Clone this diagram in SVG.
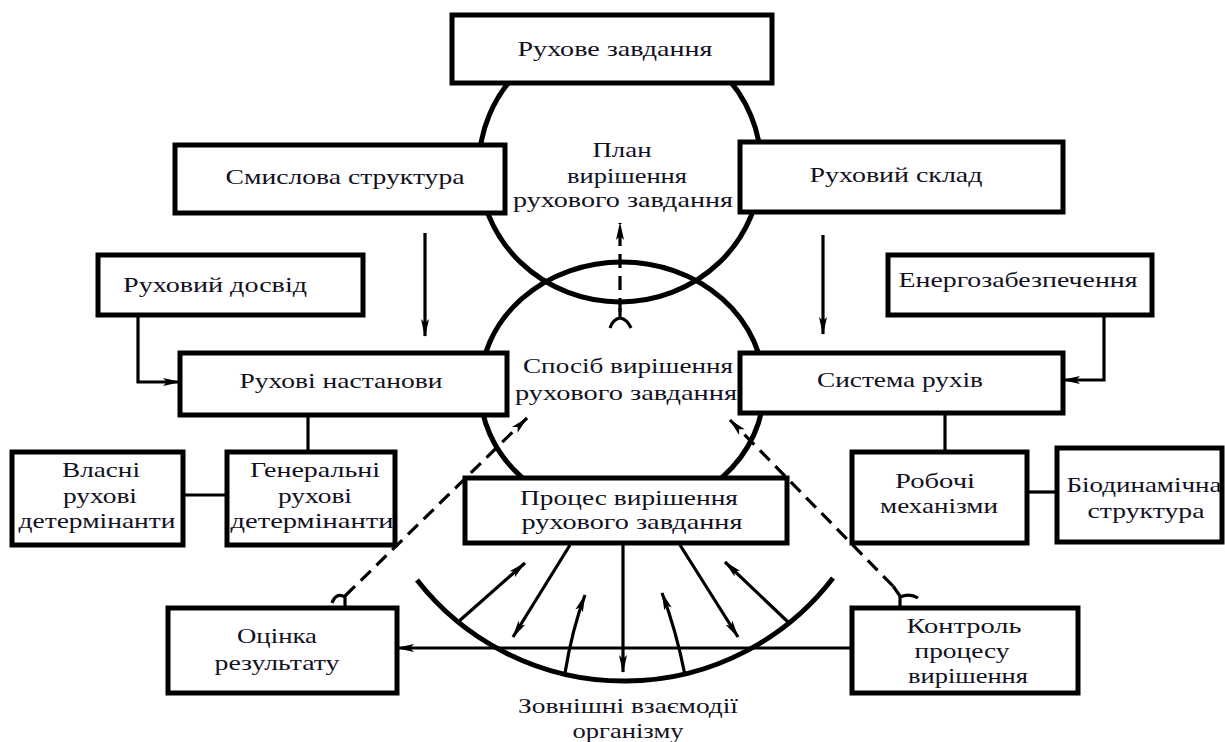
<svg xmlns="http://www.w3.org/2000/svg" width="1225" height="742" viewBox="0 0 1225 742">
<style>
.bg{fill:#fff}
.circ{fill:none;stroke:#000;stroke-width:5}
.box{fill:#fff;stroke:#000;stroke-width:5}
.ln{fill:none;stroke:#000;stroke-width:3.2}
.dash{stroke-dasharray:14 8}
.t{font-family:"Liberation Serif","Times New Roman",serif;font-size:21.5px;fill:#111122;text-anchor:middle}
</style>
<defs>
<marker id="ah" viewBox="0 0 18 9" refX="17" refY="4.5" markerWidth="18" markerHeight="9" markerUnits="userSpaceOnUse" orient="auto">
<path d="M0,0.5 L18,4.5 L0,8.5 L4,4.5 z" fill="#000"/>
</marker>
</defs>
<rect class="bg" x="0" y="0" width="1225" height="742"/>

<g id="circles">
<ellipse class="circ" cx="620" cy="166" rx="141" ry="136"/>
<ellipse class="circ" cx="622" cy="388" rx="142" ry="126"/>
<path class="circ" d="M417,580 A263,263 0 0 0 833,578"/>
</g>

<g id="connectors">
<path class="ln" d="M425,233 L425,336" marker-end="url(#ah)"/>
<path class="ln" d="M823,235 L823,334" marker-end="url(#ah)"/>
<path class="ln" d="M138,315 L138,382 L180,382" marker-end="url(#ah)"/>
<path class="ln" d="M1104,315 L1104,380 L1063,380" marker-end="url(#ah)"/>
<path class="ln" d="M308,415 L308,452"/>
<path class="ln" d="M183,495 L227,495"/>
<path class="ln" d="M945,413 L945,452"/>
<path class="ln" d="M1027,492 L1057,492"/>
<path class="ln" d="M852,648 L397,648" marker-end="url(#ah)"/>
<path class="ln dash" d="M620,312 L620,223" marker-end="url(#ah)"/>
<path class="ln" d="M620,308 L620,319 M610,328 Q613,319 620,318 Q627,319 631,328"/>
<path class="ln dash" d="M345,596 L527,418" marker-end="url(#ah)"/>
<path class="ln" d="M345,596 L345,608 M345,597 Q336,592 332,603"/>
<path class="ln dash" d="M893,586 L730,420" marker-end="url(#ah)"/>
<path class="ln" d="M893,586 L900,596 L900,608 M900,597 Q910,593 918,598"/>
<path class="ln" d="M570,545 L513,637" marker-end="url(#ah)"/>
<path class="ln" d="M623,545 L623,672" marker-end="url(#ah)"/>
<path class="ln" d="M680,545 L738,637" marker-end="url(#ah)"/>
<path class="ln" d="M788,622 L725,562" marker-end="url(#ah)"/>
<path class="ln" d="M685,675 Q676,630 662,593" marker-end="url(#ah)"/>
<path class="ln" d="M565,673 Q572,630 585,595" marker-end="url(#ah)"/>
<path class="ln" d="M458,622 L525,563" marker-end="url(#ah)"/>
</g>

<g id="n-zavdannia">
<rect class="box" x="452" y="15" width="320" height="68"/>
<text class="t" x="615" y="56" textLength="195" lengthAdjust="spacingAndGlyphs">Рухове завдання</text>
</g>
<g id="n-plan">
<text class="t" x="622" y="157" textLength="59" lengthAdjust="spacingAndGlyphs">План</text>
<text class="t" x="627" y="183" textLength="120" lengthAdjust="spacingAndGlyphs">вирішення</text>
<text class="t" x="623" y="207" textLength="220" lengthAdjust="spacingAndGlyphs">рухового завдання</text>
</g>
<g id="n-smyslova">
<rect class="box" x="175" y="145" width="330" height="68"/>
<text class="t" x="345" y="184" textLength="239" lengthAdjust="spacingAndGlyphs">Смислова структура</text>
</g>
<g id="n-sklad">
<rect class="box" x="740" y="142" width="323" height="70"/>
<text class="t" x="896" y="182" textLength="173" lengthAdjust="spacingAndGlyphs">Руховий склад</text>
</g>
<g id="n-dosvid">
<rect class="box" x="98" y="255" width="265" height="60"/>
<text class="t" x="215" y="292" textLength="184" lengthAdjust="spacingAndGlyphs">Руховий досвід</text>
</g>
<g id="n-energo">
<rect class="box" x="888" y="255" width="264" height="60"/>
<text class="t" x="1018" y="287" textLength="239" lengthAdjust="spacingAndGlyphs">Енергозабезпечення</text>
</g>
<g id="n-nastanovy">
<rect class="box" x="180" y="353" width="327" height="62"/>
<text class="t" x="341" y="388" textLength="203" lengthAdjust="spacingAndGlyphs">Рухові настанови</text>
</g>
<g id="n-sposib">
<text class="t" x="628" y="373" textLength="210" lengthAdjust="spacingAndGlyphs">Спосіб вирішення</text>
<text class="t" x="626" y="400" textLength="222" lengthAdjust="spacingAndGlyphs">рухового завдання</text>
</g>
<g id="n-systema">
<rect class="box" x="740" y="353" width="323" height="60"/>
<text class="t" x="900" y="387" textLength="166" lengthAdjust="spacingAndGlyphs">Система рухів</text>
</g>
<g id="n-vlasni">
<rect class="box" x="12" y="452" width="171" height="93"/>
<text class="t" x="101" y="477" textLength="78" lengthAdjust="spacingAndGlyphs">Власні</text>
<text class="t" x="100" y="503" textLength="74" lengthAdjust="spacingAndGlyphs">рухові</text>
<text class="t" x="97" y="528" textLength="157" lengthAdjust="spacingAndGlyphs">детермінанти</text>
</g>
<g id="n-generalni">
<rect class="box" x="227" y="452" width="168" height="93"/>
<text class="t" x="315" y="477" textLength="130" lengthAdjust="spacingAndGlyphs">Генеральні</text>
<text class="t" x="315" y="503" textLength="74" lengthAdjust="spacingAndGlyphs">рухові</text>
<text class="t" x="312" y="528" textLength="163" lengthAdjust="spacingAndGlyphs">детермінанти</text>
</g>
<g id="n-protses">
<rect class="box" x="465" y="478" width="322" height="65"/>
<text class="t" x="629" y="505" textLength="218" lengthAdjust="spacingAndGlyphs">Процес вирішення</text>
<text class="t" x="632" y="529" textLength="221" lengthAdjust="spacingAndGlyphs">рухового завдання</text>
</g>
<g id="n-robochi">
<rect class="box" x="852" y="452" width="175" height="91"/>
<text class="t" x="935" y="488" textLength="80" lengthAdjust="spacingAndGlyphs">Робочі</text>
<text class="t" x="939" y="513" textLength="118" lengthAdjust="spacingAndGlyphs">механізми</text>
</g>
<g id="n-biodyn">
<rect class="box" x="1057" y="448" width="165" height="94"/>
<text class="t" x="1144" y="492" textLength="155" lengthAdjust="spacingAndGlyphs">Біодинамічна</text>
<text class="t" x="1146" y="518" textLength="117" lengthAdjust="spacingAndGlyphs">структура</text>
</g>
<g id="n-otsinka">
<rect class="box" x="168" y="608" width="229" height="85"/>
<text class="t" x="277" y="643" textLength="80" lengthAdjust="spacingAndGlyphs">Оцінка</text>
<text class="t" x="277" y="670" textLength="125" lengthAdjust="spacingAndGlyphs">результату</text>
</g>
<g id="n-kontrol">
<rect class="box" x="852" y="608" width="226" height="85"/>
<text class="t" x="964" y="633" textLength="115" lengthAdjust="spacingAndGlyphs">Контроль</text>
<text class="t" x="962" y="658" textLength="95" lengthAdjust="spacingAndGlyphs">процесу</text>
<text class="t" x="968" y="683" textLength="120" lengthAdjust="spacingAndGlyphs">вирішення</text>
</g>
<g id="n-zovnishni">
<text class="t" x="628" y="713" textLength="220" lengthAdjust="spacingAndGlyphs">Зовнішні взаємодії</text>
<text class="t" x="628" y="738" textLength="111" lengthAdjust="spacingAndGlyphs">організму</text>
</g>
</svg>
